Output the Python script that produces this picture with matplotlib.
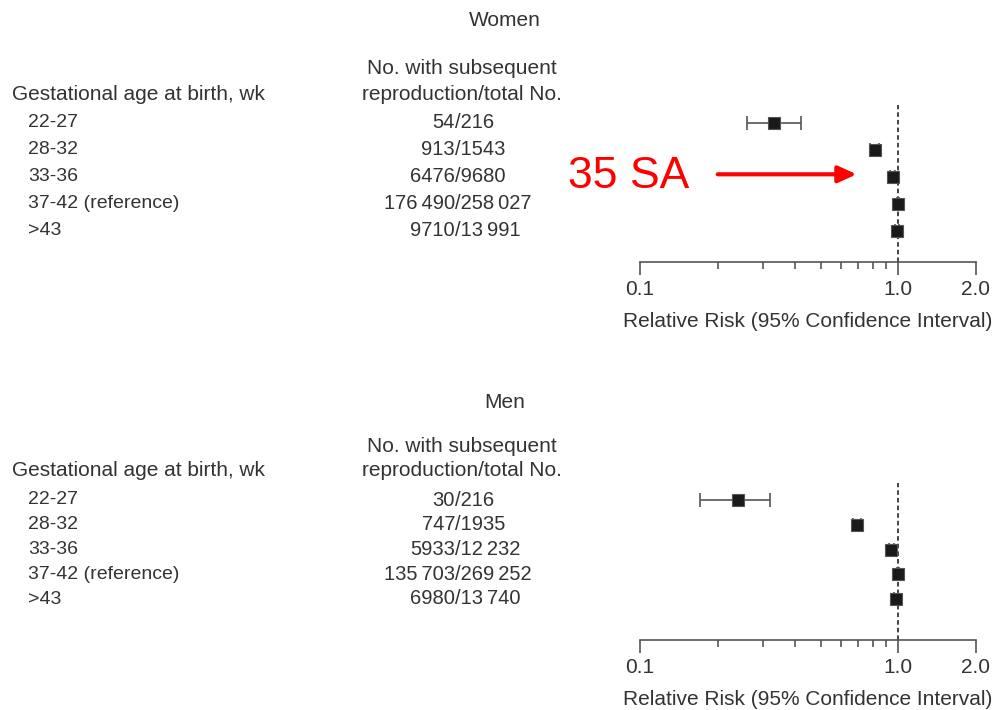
import numpy as np
import matplotlib.pyplot as plt
from matplotlib.transforms import blended_transform_factory
from matplotlib.ticker import FixedLocator, NullFormatter

plt.rcParams['font.family'] = ['Liberation Sans', 'DejaVu Sans']

# rows of the table (same for both panels)
age_groups = ['22-27', '28-32', '33-36', '37-42 (reference)', '>43']

# women
women_counts = ['54/216', '913/1543', '6476/9680',
                '176\u2009490/258\u2009027', '9710/13\u2009991']
women_rr = [0.33, 0.81, 0.95, 1.0, 0.99]
women_lo = [0.26, 0.78, 0.93, 0.99, 0.97]
women_hi = [0.42, 0.84, 0.97, 1.01, 1.01]

# men
men_counts = ['30/216', '747/1935', '5933/12\u2009232',
              '135\u2009703/269\u2009252', '6980/13\u2009740']
men_rr = [0.24, 0.69, 0.94, 1.0, 0.98]
men_lo = [0.17, 0.67, 0.92, 0.99, 0.96]
men_hi = [0.32, 0.72, 0.96, 1.01, 1.00]

xticks = [0.1, 1.0, 2.0]
xtick_labels = ['0.1', '1.0', '2.0']
minor_ticks = [0.2, 0.3, 0.4, 0.5, 0.6, 0.7, 0.8, 0.9]

W, H = 997, 710
txt = '#333333'
fs_head = 15
fs_row = 14
fs_num = 14.5

fig = plt.figure(figsize=(W / 100, H / 100), dpi=100)


def px_ax(x0, y0, x1, y1):
    return fig.add_axes([x0 / W, 1 - y1 / H, (x1 - x0) / W, (y1 - y0) / H])


def panel(title, title_y, top, bottom, row0, row_step, counts, rr, lo, hi):
    ax = px_ax(640, top, 976, bottom)
    n = len(age_groups)
    rows = np.arange(n)
    # pixel layout -> row index limits
    y_top = -(row0 - top) / row_step
    y_bot = (bottom - row0) / row_step
    ax.set_ylim(y_bot, y_top)
    ax.set_xscale('log')
    ax.set_xlim(0.1, 2.0)

    rr = np.array(rr)
    err = [rr - np.array(lo), np.array(hi) - rr]
    ax.errorbar(rr, rows, xerr=err, fmt='none', ecolor='#555555',
                elinewidth=1.2, capsize=5, capthick=1.2, zorder=2)
    ax.plot(rr, rows, 's', color='#1a1a1a', markersize=9,
            markeredgecolor='#555555', markeredgewidth=0.8, zorder=3)
    ax.axvline(1.0, color='#111111', lw=1.1, ls=(0, (3, 2)), zorder=1)

    for s in ['top', 'right', 'left']:
        ax.spines[s].set_visible(False)
    ax.spines['bottom'].set_color('#555555')
    ax.spines['bottom'].set_linewidth(1.2)
    ax.set_yticks([])
    ax.xaxis.set_major_locator(FixedLocator(xticks))
    ax.set_xticklabels(xtick_labels)
    ax.xaxis.set_minor_locator(FixedLocator(minor_ticks))
    ax.xaxis.set_minor_formatter(NullFormatter())
    ax.tick_params(axis='x', which='major', length=9, width=1.2,
                   color='#555555', labelsize=fs_head, labelcolor=txt, pad=4)
    ax.tick_params(axis='x', which='minor', length=5, width=1.2,
                   color='#555555')
    ax.set_xlabel('Relative Risk (95% Confidence Interval)', fontsize=fs_head,
                  color=txt, labelpad=9)
    ax.patch.set_alpha(0)

    # table on the left, rows tied to the axes' row index
    tr = blended_transform_factory(fig.transFigure, ax.transData)
    for i in rows:
        fig.text(28 / W, i, age_groups[i], transform=tr, fontsize=fs_row,
                 color=txt, va='center', ha='left')
        num, den = counts[i].split('/')
        # counts lined up on the slash
        fig.text(455 / W, i, num, transform=tr, fontsize=fs_num,
                 color=txt, va='center', ha='right')
        fig.text(455 / W, i, '/' + den, transform=tr, fontsize=fs_num,
                 color=txt, va='center', ha='left')

    fig.text(505 / W, 1 - title_y / H, title, fontsize=fs_head, color=txt,
             ha='center', va='center')
    fig.text(12 / W, 1 - (row0 - 29) / H, 'Gestational age at birth, wk',
             fontsize=fs_head, color=txt, ha='left', va='center')
    fig.text(462 / W, 1 - (row0 - 29) / H, 'reproduction/total No.',
             fontsize=fs_head, color=txt, ha='center', va='center')
    fig.text(462 / W, 1 - (row0 - 54) / H, 'No. with subsequent',
             fontsize=fs_head, color=txt, ha='center', va='center')
    return ax


ax_w = panel('Women', 20, 105, 262, 123, 27,
             women_counts, women_rr, women_lo, women_hi)
ax_m = panel('Men', 402, 483, 640, 500, 24.75,
             men_counts, men_rr, men_lo, men_hi)

# red note pointing at the 33-36 row
fig.text(568 / W, 1 - 176 / H, '35 SA', fontsize=32, color='#ff0000',
         ha='left', va='center')
ax_w.annotate('', xy=(0.69, 1.9), xytext=(0.2, 1.9),
              xycoords='data', textcoords='data',
              arrowprops=dict(arrowstyle='-|>,head_length=1.1,head_width=0.5',
                              color='#ff0000', lw=3, shrinkA=0, shrinkB=0),
              annotation_clip=False)

fig.savefig('out.png', dpi=100)
